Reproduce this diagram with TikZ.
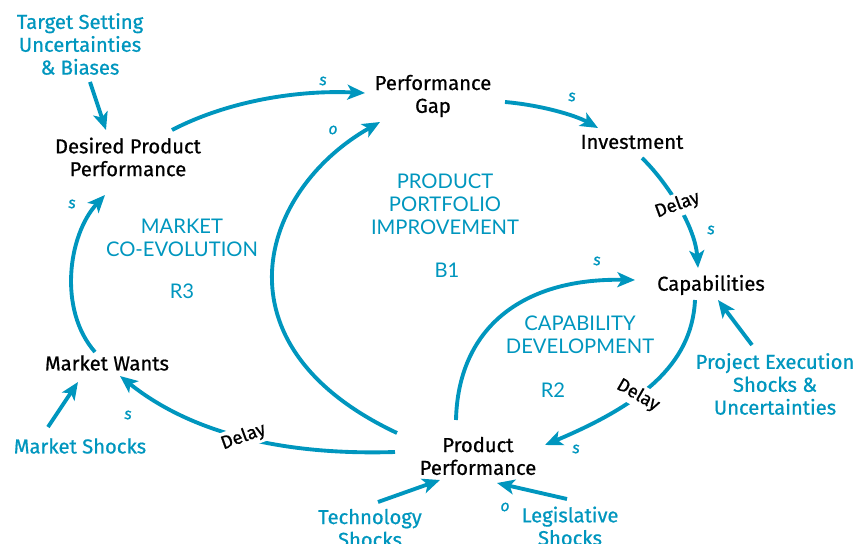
\documentclass[tikz,border=0pt]{standalone}
\usepackage{fontspec}
\setmainfont{Fira Sans}
\newfontfamily\varfont{Fira Sans}[FakeBold=0.7]
\newfontfamily\loopfont{Lato}
\usetikzlibrary{arrows.meta,calc}
\definecolor{loopteal}{RGB}{0,150,190}
\begin{document}
\begin{tikzpicture}[x=0.02cm,y=-0.02cm,
  var/.style={text=black,font=\varfont\fontsize{11.5}{13}\selectfont,align=center,inner sep=1pt},
  ext/.style={text=loopteal,font=\varfont\fontsize{11.5}{13}\selectfont,align=center,inner sep=1pt},
  loopname/.style={text=loopteal,font=\loopfont\fontsize{11.5}{13}\selectfont,align=center,inner sep=1pt},
  pol/.style={text=loopteal,font=\varfont\itshape\fontsize{9}{10}\selectfont,inner sep=1pt},
  delay/.style={fill=white,text=black,font=\varfont\fontsize{10.5}{11}\selectfont,inner sep=1.5pt},
  link/.style={draw=loopteal,line width=2.2pt,-{Stealth[length=10pt,width=8.5pt,inset=2.5pt]}},
]
\useasboundingbox (0,0) rectangle (856,544);

% variables
\node[var] (dpp) at (128,157) {Desired Product\\Performance};
\node[var] (gap) at (433,96) {Performance\\Gap};
\node[var] (inv) at (632,142) {Investment};
\node[var] (cap) at (711,285) {Capabilities};
\node[var] (pp)  at (478,456) {Product\\Performance};
\node[var] (mw)  at (107,363) {Market Wants};

% external influences
\node[ext] (tgt)  at (80,44)   {Target Setting\\Uncertainties\\\& Biases};
\node[ext] (pes)  at (775,384) {Project Execution\\Shocks \&\\Uncertainties};
\node[ext] (leg)  at (570,526) {Legislative\\Shocks};
\node[ext] (tech) at (370,528) {Technology\\Shocks};
\node[ext] (ms)   at (80,446)  {Market Shocks};

% loop names
\node[loopname] (l3) at (182,238) {MARKET\\CO-EVOLUTION};
\node[loopname] (r3) at (182,291) {R3};
\node[loopname] (l1) at (445,204) {PRODUCT\\PORTFOLIO\\IMPROVEMENT};
\node[loopname] (b1) at (447,270) {B1};
\node[loopname] (l2) at (580,335) {CAPABILITY\\DEVELOPMENT};
\node[loopname] (r2) at (553,390) {R2};

% causal links
\draw[link] ($(tgt)+(10,38)$) -- ($(dpp)+(-22,-27)$);
\draw[link] ($(dpp)+(44,-27)$) .. controls (230,100) and (300,90) .. ($(gap)+(-68,-3)$);
\draw[link] ($(pp)+(-81,-23)$) .. controls (210,345) and (260,190) .. ($(gap)+(-53,26)$);
\draw[link] ($(gap)+(72,6)$) .. controls (540,105) and (575,115) .. ($(inv)+(-34,-14)$);
\draw[link] ($(inv)+(10,16)$) .. controls (665,180) and (695,225) .. ($(cap)+(-13,-17)$)
  node[delay,pos=0.5,rotate=20] (d1) {Delay};
\draw[link] ($(cap)+(-16,15)$) .. controls (692,365) and (640,405) .. ($(pp)+(67,-11)$)
  node[delay,pos=0.6,rotate=-30] (d2) {Delay};
\draw[link] ($(pp)+(-22,-36)$) .. controls (458,330) and (520,278) .. ($(cap)+(-76,-5)$);
\draw[link] ($(pp)+(-83,-4)$) .. controls (300,455) and (200,440) .. ($(mw)+(13,13)$)
  node[delay,pos=0.53,rotate=20] (d3) {Delay};
\draw[link] ($(mw)+(-12,-11)$) .. controls (58,310) and (68,235) .. ($(dpp)+(-23,38)$);
\draw[link] ($(ms)+(-32,-19)$) -- ($(mw)+(-29,19)$);
\draw[link] ($(pes)+(-23,-39)$) -- ($(cap)+(7,15)$);
\draw[link] ($(tech)+(8,-26)$) -- ($(pp)+(-38,24)$);
\draw[link] ($(leg)+(-3,-27)$) -- ($(pp)+(19,27)$);

% link polarities
\node[pol] (p1) at (323,81)  {s};
\node[pol] (p2) at (333,130) {o};
\node[pol] (p3) at (572,97)  {s};
\node[pol] (p4) at (711,230) {s};
\node[pol] (p5) at (597,261) {s};
\node[pol] (p6) at (576,449) {s};
\node[pol] (p7) at (128,415) {s};
\node[pol] (p8) at (72,204)  {s};
\node[pol] (p9) at (505,507) {o};
\end{tikzpicture}
\end{document}
